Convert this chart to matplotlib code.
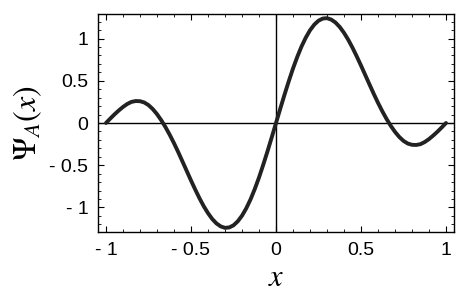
import matplotlib
matplotlib.use("Agg")
import matplotlib.pyplot as plt
from matplotlib.ticker import MultipleLocator, FixedLocator

plt.rcParams['mathtext.fontset'] = 'stix'

# values (x from 0 to 1; the curve is odd, so the
# left half is listed with the signs reversed)
x_right = [0.000, 0.025, 0.050, 0.075, 0.100, 0.125, 0.150, 0.175, 0.200, 0.225,
           0.250, 0.275, 0.300, 0.325, 0.350, 0.375, 0.400, 0.425, 0.450, 0.475,
           0.500, 0.525, 0.550, 0.575, 0.600, 0.625, 0.650, 0.675, 0.700, 0.725,
           0.750, 0.775, 0.800, 0.825, 0.850, 0.875, 0.900, 0.925, 0.950, 0.975, 1.000]
psi_right = [0.000, 0.169, 0.335, 0.494, 0.645, 0.782, 0.905, 1.010, 1.097, 1.164,
             1.211, 1.236, 1.241, 1.224, 1.189, 1.136, 1.067, 0.985, 0.891, 0.788,
             0.680, 0.568, 0.456, 0.345, 0.239, 0.140, 0.049, -0.033, -0.105, -0.165,
             -0.212, -0.243, -0.258, -0.260, -0.250, -0.225, -0.190, -0.148, -0.102, -0.052, 0.000]
x_left = [-1.000, -0.975, -0.950, -0.925, -0.900, -0.875, -0.850, -0.825, -0.800, -0.775,
          -0.750, -0.725, -0.700, -0.675, -0.650, -0.625, -0.600, -0.575, -0.550, -0.525,
          -0.500, -0.475, -0.450, -0.425, -0.400, -0.375, -0.350, -0.325, -0.300, -0.275,
          -0.250, -0.225, -0.200, -0.175, -0.150, -0.125, -0.100, -0.075, -0.050, -0.025]
psi_left = [0.000, 0.052, 0.102, 0.148, 0.190, 0.225, 0.250, 0.260, 0.258, 0.243,
            0.212, 0.165, 0.105, 0.033, -0.049, -0.140, -0.239, -0.345, -0.456, -0.568,
            -0.680, -0.788, -0.891, -0.985, -1.067, -1.136, -1.189, -1.224, -1.241, -1.236,
            -1.211, -1.164, -1.097, -1.010, -0.905, -0.782, -0.645, -0.494, -0.335, -0.169]

x_vals = x_left + x_right
psi_vals = psi_left + psi_right

x_ticks = [-1, -0.5, 0, 0.5, 1]
x_tick_labels = ['- 1', '- 0.5', '0', '0.5', '1']
y_ticks = [-1, -0.5, 0, 0.5, 1]
y_tick_labels = ['- 1', '- 0.5', '0', '0.5', '1']

fig = plt.figure(figsize=(4.58, 3.04), dpi=100)
ax = fig.add_axes([98/458, 1-232/304, (454-98)/458, (232-14)/304])

ax.axhline(0, color='black', lw=1.0, zorder=1)
ax.axvline(0, color='black', lw=1.0, zorder=1)
ax.plot(x_vals, psi_vals, color='#222222', lw=2.8, solid_joinstyle='round',
        solid_capstyle='round', zorder=3)

ax.set_xlim(-1.047, 1.047)
ax.set_ylim(-1.29, 1.29)

ax.xaxis.set_major_locator(FixedLocator(x_ticks))
ax.yaxis.set_major_locator(FixedLocator(y_ticks))
ax.xaxis.set_minor_locator(MultipleLocator(0.1))
ax.yaxis.set_minor_locator(MultipleLocator(0.1))
ax.set_xticklabels(x_tick_labels)
ax.set_yticklabels(y_tick_labels)

for lab in ax.get_xticklabels() + ax.get_yticklabels():
    lab.set_fontfamily('Liberation Sans')
    lab.set_fontsize(14)

ax.tick_params(which='major', direction='in', length=4, width=0.8,
               top=True, right=True, pad=7)
ax.tick_params(which='minor', direction='in', length=2, width=0.6,
               top=True, right=True)

for sp in ax.spines.values():
    sp.set_linewidth(1.0)
    sp.set_color('black')

ax.set_xlabel(r'$x$', fontsize=22, labelpad=3)
ax.set_ylabel(r'$\Psi_A(x)$', fontsize=23, labelpad=4)

fig.savefig('out.png', dpi=100)
